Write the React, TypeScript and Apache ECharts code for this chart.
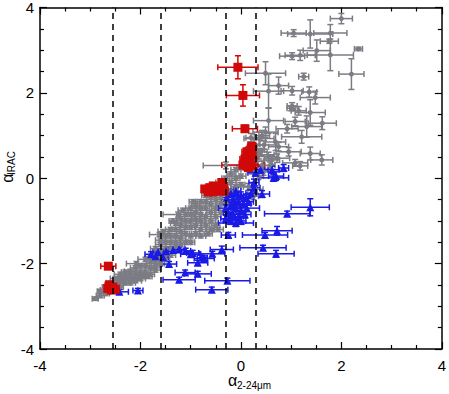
import React, { useEffect, useRef } from "react";
import * as echarts from "echarts";

// [x, y, xErr, yErr]
const grayPoints: number[][] = [
  [2.0, 3.74, 0.22, 0.12], [1.38, 3.38, 0.45, 0.33], [1.05, 3.4, 0.25, 0.08], [1.78, 3.4, 0.33, 0.2],
  [1.76, 3.21, 0.18, 0.05], [2.34, 3.03, 0.08, 0.04], [1.51, 2.99, 0.27, 0.25], [1.78, 2.89, 0.46, 0.37],
  [1.18, 2.88, 0.3, 0.12], [1.02, 2.86, 0.25, 0.08], [2.2, 2.44, 0.25, 0.36], [1.25, 2.38, 0.1, 0.08],
  [0.49, 2.46, 0.4, 0.27], [0.75, 2.17, 0.2, 0.2], [0.55, 2.04, 0.3, 0.4], [1.02, 2.05, 0.22, 0.1],
  [1.36, 2.02, 0.15, 0.12], [1.48, 1.89, 0.3, 0.15], [1.02, 1.69, 0.1, 0.08], [1.0, 1.64, 0.08, 0.06],
  [1.15, 1.58, 0.15, 0.1], [1.38, 1.54, 0.3, 0.3], [0.55, 1.35, 0.3, 0.3], [1.08, 1.33, 0.2, 0.1],
  [1.62, 1.29, 0.28, 0.15], [1.31, 1.21, 0.3, 0.25], [0.92, 1.16, 0.22, 0.1], [0.49, 1.08, 0.25, 0.12],
  [1.21, 0.97, 0.4, 0.15], [0.69, 0.85, 0.2, 0.2], [0.36, 0.93, 0.3, 0.15], [0.46, 0.78, 0.25, 0.1],
  [0.75, 0.74, 0.2, 0.1], [0.95, 0.62, 0.25, 0.1], [1.38, 0.58, 0.2, 0.15], [0.62, 0.43, 0.15, 0.1],
  [0.36, 0.55, 0.3, 0.1], [1.61, 0.43, 0.22, 0.12], [1.18, 0.29, 0.15, 0.1], [1.08, 0.36, 0.25, 0.08],
  [0.32, 0.66, 0.15, 0.1], [0.72, 0.47, 0.25, 0.1],
  [0.3, 0.4, 0.15, 0.1], [0.42, 0.3, 0.2, 0.1], [0.22, 0.2, 0.1, 0.1], [0.45, 0.15, 0.15, 0.08],
  [0.35, 0.05, 0.1, 0.08], [0.29, -0.26, 0.15, 0.08], [0.25, -0.42, 0.1, 0.08], [0.15, -0.2, 0.1, 0.08],
  [0.55, 0.51, 0.2, 0.1], [0.42, 1.0, 0.15, 0.12], [0.26, 0.8, 0.12, 0.1], [0.2, 0.95, 0.1, 0.1],
  [0.4, 0.62, 0.12, 0.08], [0.58, 0.3, 0.1, 0.08], [-0.3, 0.3, 0.45, 0.08],
  [-2.9, -2.82, 0.06, 0.04], [-2.8, -2.75, 0.08, 0.05], [-2.8, -2.65, 0.06, 0.05], [-2.7, -2.7, 0.08, 0.05],
  [-2.7, -2.55, 0.06, 0.05], [-2.7, -2.62, 0.1, 0.05], [-2.6, -2.45, 0.08, 0.05], [-2.6, -2.58, 0.06, 0.05],
  [-2.5, -2.35, 0.1, 0.05], [-2.5, -2.5, 0.08, 0.05], [-2.5, -2.62, 0.06, 0.05], [-2.45, -2.45, 0.1, 0.05],
  [-2.4, -2.25, 0.12, 0.05], [-2.4, -2.4, 0.08, 0.05], [-2.4, -2.55, 0.06, 0.05], [-2.35, -2.32, 0.1, 0.05],
  [-2.3, -2.2, 0.08, 0.05], [-2.3, -2.45, 0.1, 0.05], [-2.25, -2.35, 0.08, 0.05], [-2.2, -2.18, 0.12, 0.05],
  [-2.2, -2.3, 0.08, 0.05], [-2.2, -2.45, 0.1, 0.05], [-2.15, -2.38, 0.08, 0.05], [-2.1, -2.1, 0.1, 0.05],
  [-2.1, -2.25, 0.08, 0.05], [-2.1, -2.4, 0.12, 0.05], [-2.05, -2.32, 0.08, 0.05], [-2.08, -2.0, 0.2, 0.05],
  [-2.0, -2.05, 0.1, 0.05], [-2.0, -2.2, 0.08, 0.05], [-2.0, -2.35, 0.1, 0.05], [-1.95, -2.28, 0.08, 0.05],
  [-1.9, -1.9, 0.15, 0.05], [-1.9, -2.05, 0.08, 0.05], [-1.9, -2.2, 0.1, 0.05], [-1.85, -2.3, 0.08, 0.05],
  [-1.8, -1.85, 0.1, 0.05], [-1.8, -1.95, 0.08, 0.05], [-1.8, -2.1, 0.1, 0.05], [-1.8, -2.25, 0.08, 0.05],
  [-1.7, -1.65, 0.1, 0.05], [-1.7, -1.8, 0.08, 0.05], [-1.7, -1.95, 0.1, 0.05], [-1.7, -2.05, 0.08, 0.05],
  [-1.7, -2.15, 0.1, 0.05], [-1.62, -1.32, 0.2, 0.05], [-1.6, -1.55, 0.1, 0.05], [-1.6, -1.7, 0.08, 0.05],
  [-1.6, -1.85, 0.1, 0.05], [-1.6, -2.0, 0.08, 0.05], [-1.6, -1.45, 0.1, 0.05], [-1.5, -1.35, 0.08, 0.05],
  [-1.5, -1.5, 0.1, 0.05], [-1.5, -1.65, 0.08, 0.05], [-1.5, -1.8, 0.1, 0.05], [-1.5, -1.9, 0.08, 0.05],
  [-1.4, -1.2, 0.1, 0.05], [-1.4, -1.35, 0.08, 0.05], [-1.4, -1.5, 0.1, 0.05], [-1.4, -1.65, 0.08, 0.05],
  [-1.4, -1.8, 0.1, 0.05], [-1.25, -0.85, 0.3, 0.06], [-1.3, -1.05, 0.1, 0.05], [-1.3, -1.2, 0.08, 0.05],
  [-1.3, -1.35, 0.1, 0.05], [-1.3, -1.5, 0.08, 0.05], [-1.3, -1.6, 0.1, 0.05], [-1.2, -0.95, 0.08, 0.05],
  [-1.2, -1.1, 0.1, 0.05], [-1.2, -1.25, 0.08, 0.05], [-1.2, -1.4, 0.1, 0.05], [-1.2, -1.55, 0.08, 0.05],
  [-1.1, -0.85, 0.1, 0.05], [-1.1, -1.0, 0.08, 0.05], [-1.1, -1.15, 0.1, 0.05], [-1.1, -1.3, 0.08, 0.05],
  [-1.1, -1.5, 0.1, 0.05], [-1.0, -0.7, 0.1, 0.05], [-1.0, -0.85, 0.08, 0.05], [-1.0, -1.0, 0.1, 0.05],
  [-1.0, -1.15, 0.08, 0.05], [-1.0, -1.35, 0.1, 0.05], [-0.9, -0.65, 0.08, 0.05], [-0.9, -0.8, 0.1, 0.05],
  [-0.9, -0.95, 0.08, 0.05], [-0.9, -1.1, 0.1, 0.05], [-0.9, -1.3, 0.08, 0.05], [-0.8, -0.55, 0.1, 0.05],
  [-0.8, -0.7, 0.08, 0.05], [-0.8, -0.85, 0.1, 0.05], [-0.8, -1.0, 0.08, 0.05], [-0.8, -1.2, 0.1, 0.05],
  [-0.7, -0.4, 0.08, 0.05], [-0.7, -0.55, 0.1, 0.05], [-0.7, -0.7, 0.08, 0.05], [-0.7, -0.9, 0.1, 0.05],
  [-0.7, -1.1, 0.08, 0.05], [-0.6, -0.3, 0.1, 0.05], [-0.6, -0.45, 0.08, 0.05], [-0.6, -0.6, 0.1, 0.05],
  [-0.6, -0.8, 0.08, 0.05], [-0.6, -1.0, 0.1, 0.05], [-0.6, -1.2, 0.08, 0.05], [-0.5, -0.2, 0.1, 0.05],
  [-0.5, -0.35, 0.08, 0.05], [-0.5, -0.5, 0.1, 0.05], [-0.5, -0.7, 0.08, 0.05], [-0.5, -0.9, 0.1, 0.05],
  [-0.5, -1.1, 0.08, 0.05], [-0.4, -0.1, 0.1, 0.05], [-0.4, -0.25, 0.08, 0.05], [-0.4, -0.45, 0.1, 0.05],
  [-0.4, -0.6, 0.08, 0.05], [-0.4, -0.8, 0.1, 0.05], [-0.3, 0.0, 0.08, 0.05], [-0.3, -0.15, 0.1, 0.05],
  [-0.3, -0.35, 0.08, 0.05], [-0.3, -0.55, 0.1, 0.05], [-0.2, 0.1, 0.08, 0.05], [-0.2, -0.1, 0.1, 0.05],
  [-0.2, -0.3, 0.08, 0.05], [-0.1, 0.2, 0.1, 0.05], [-0.1, 0.0, 0.08, 0.05], [-0.1, -0.2, 0.1, 0.05],
  [0.0, 0.25, 0.08, 0.05], [0.0, 0.05, 0.1, 0.05], [0.0, -0.15, 0.08, 0.05],
  [-1.55, -1.25, 0.1, 0.05], [-1.35, -1.0, 0.08, 0.05], [-1.15, -0.75, 0.1, 0.05], [-0.95, -0.55, 0.08, 0.05],
  [-0.8, -1.35, 0.1, 0.05], [-0.65, -1.3, 0.08, 0.05], [-0.45, -1.2, 0.1, 0.05], [-1.0, -1.5, 0.08, 0.05],
];

const bluePoints: number[][] = [
  [1.38, -0.68, 0.38, 0.2], [0.92, -0.83, 0.45, 0.06], [0.72, -1.23, 0.3, 0.1], [0.48, -1.33, 0.45, 0.06],
  [0.44, -1.63, 0.46, 0.06], [0.7, -1.77, 0.36, 0.08], [-0.25, -1.33, 0.14, 0.06], [-0.38, -1.67, 0.23, 0.08],
  [-0.57, -1.77, 0.25, 0.06], [-0.73, -1.88, 0.2, 0.06], [-0.86, -1.98, 0.2, 0.06], [-1.0, -1.78, 0.2, 0.06],
  [-0.86, -2.24, 0.27, 0.06], [-0.27, -2.4, 0.45, 0.06], [-0.58, -2.61, 0.32, 0.06], [-1.23, -2.38, 0.32, 0.06],
  [-1.11, -2.21, 0.2, 0.06], [-1.43, -2.01, 0.15, 0.06], [-1.79, -1.78, 0.12, 0.06], [-1.65, -1.73, 0.1, 0.06],
  [-1.49, -1.71, 0.12, 0.06], [-1.35, -1.68, 0.1, 0.06], [-1.23, -1.67, 0.12, 0.06], [-1.1, -1.7, 0.1, 0.06],
  [-0.96, -1.75, 0.12, 0.06], [-0.77, -1.86, 0.1, 0.06], [-1.55, -1.85, 0.1, 0.06], [-1.7, -1.83, 0.1, 0.06],
  [-2.42, -2.66, 0.18, 0.05], [-2.05, -2.63, 0.1, 0.05], [-2.52, -2.61, 0.1, 0.05],
  [-0.2, -0.35, 0.1, 0.08], [-0.1, -0.3, 0.1, 0.08], [0.0, -0.4, 0.12, 0.08], [-0.15, -0.5, 0.1, 0.08],
  [-0.05, -0.55, 0.1, 0.08], [0.05, -0.6, 0.15, 0.08], [-0.2, -0.65, 0.12, 0.08], [-0.1, -0.7, 0.1, 0.08],
  [0.0, -0.75, 0.1, 0.08], [-0.25, -0.8, 0.1, 0.08], [-0.15, -0.85, 0.15, 0.08], [-0.05, -0.9, 0.1, 0.08],
  [-0.2, -1.0, 0.15, 0.08], [-0.1, -1.05, 0.35, 0.08], [0.1, -0.45, 0.15, 0.08], [0.12, -0.7, 0.25, 0.08],
  [-0.3, -0.7, 0.15, 0.08], [0.26, -0.1, 0.1, 0.08], [0.26, -0.22, 0.12, 0.08], [0.42, -0.37, 0.15, 0.08],
  [0.2, -0.35, 0.1, 0.08], [0.39, 0.2, 0.15, 0.08], [0.62, 0.2, 0.15, 0.08], [0.85, 0.24, 0.1, 0.08],
  [0.65, 0.01, 0.3, 0.08], [0.29, 0.13, 0.15, 0.08], [0.7, 0.05, 0.15, 0.1],
  [-0.28, -0.45, 0.1, 0.08], [-0.05, -0.42, 0.1, 0.08], [0.08, -0.85, 0.12, 0.08], [-0.3, -0.95, 0.1, 0.08],
  [0.0, -1.0, 0.1, 0.08], [-0.12, -0.62, 0.1, 0.08], [-0.22, -0.9, 0.1, 0.08], [0.15, -0.55, 0.1, 0.08],
];

const redPoints: number[][] = [
  [-0.06, 2.6, 0.4, 0.27], [0.04, 1.94, 0.33, 0.25], [0.08, 1.16, 0.25, 0.08],
  [0.22, 0.75, 0.08, 0.08], [0.2, 0.68, 0.1, 0.08], [0.12, 0.62, 0.1, 0.08], [0.22, 0.55, 0.1, 0.08],
  [0.15, 0.5, 0.12, 0.08], [0.08, 0.45, 0.1, 0.08], [0.18, 0.4, 0.15, 0.08], [0.1, 0.35, 0.1, 0.08],
  [0.04, 0.31, 0.42, 0.06], [0.15, 0.25, 0.1, 0.08], [0.22, 0.3, 0.12, 0.08],
  [-0.72, -0.25, 0.05, 0.05], [-0.62, -0.22, 0.05, 0.05], [-0.55, -0.18, 0.05, 0.05], [-0.48, -0.25, 0.05, 0.05],
  [-0.4, -0.3, 0.05, 0.05], [-0.38, -0.1, 0.05, 0.05], [-0.35, -0.2, 0.05, 0.05], [-0.33, -0.3, 0.05, 0.05],
  [-0.65, -0.32, 0.05, 0.05], [-0.55, -0.32, 0.05, 0.05],
  [-2.64, -2.06, 0.15, 0.05], [-2.62, -2.5, 0.08, 0.05], [-2.55, -2.55, 0.08, 0.05], [-2.65, -2.58, 0.08, 0.05],
  [-2.58, -2.62, 0.1, 0.05], [-2.5, -2.6, 0.1, 0.05],
];

const dividerX = [-2.56, -1.6, -0.3, 0.3];
const axisTicks = { min: -4, max: 4, interval: 2 };

const GRAY = "#7c7c84";
const BLUE = "#1a1ae6";
const RED = "#d00808";
const FONT = "Liberation Sans, Arial, sans-serif";

function errorBars(data: number[][], color: string, cap: number) {
  return {
    type: "custom",
    data,
    silent: true,
    renderItem: (_p: any, api: any) => {
      const x = api.value(0), y = api.value(1), xe = api.value(2), ye = api.value(3);
      const l = api.coord([x - xe, y]);
      const r = api.coord([x + xe, y]);
      const t = api.coord([x, y + ye]);
      const b = api.coord([x, y - ye]);
      const st = { stroke: color, lineWidth: 1.5 };
      const ln = (x1: number, y1: number, x2: number, y2: number) => ({
        type: "line",
        shape: { x1, y1, x2, y2 },
        style: st,
      });
      return {
        type: "group",
        children: [
          ln(l[0], l[1], r[0], r[1]),
          ln(t[0], t[1], b[0], b[1]),
          ln(l[0], l[1] - cap, l[0], l[1] + cap),
          ln(r[0], r[1] - cap, r[0], r[1] + cap),
          ln(t[0] - cap, t[1], t[0] + cap, t[1]),
          ln(b[0] - cap, b[1], b[0] + cap, b[1]),
        ],
      };
    },
  };
}

function markers(data: number[][], color: string, symbol: string, size: number) {
  return {
    type: "scatter",
    data: data.map((d) => [d[0], d[1]]),
    symbol,
    symbolSize: size,
    itemStyle: { color, opacity: 1 },
    silent: true,
  };
}

export default function App() {
  const ref = useRef<HTMLDivElement>(null);
  useEffect(() => {
    if (!ref.current) return;
    const chart = echarts.init(ref.current, null, { renderer: "svg" });
    const base = {
      type: "value",
      ...axisTicks,
      axisLine: { show: true, onZero: false, lineStyle: { color: "#000", width: 1.5 } },
      axisTick: { show: true, inside: true, length: 7, lineStyle: { color: "#000", width: 1.2 } },
      minorTick: { show: true, splitNumber: 4, length: 4, lineStyle: { color: "#000", width: 1.2 } },
      splitLine: { show: false },
      minorSplitLine: { show: false },
    };
    const labelStyle = { color: "#000", fontSize: 15, fontFamily: FONT };
    chart.setOption({
      animation: false,
      grid: { left: 40, right: 4, top: 1, bottom: 45, containLabel: false },
      xAxis: [
        { ...base, position: "bottom", axisLabel: { ...labelStyle, margin: 9 } },
        { ...base, position: "top", axisLabel: { show: false } },
      ],
      yAxis: [
        { ...base, position: "left", axisLabel: { ...labelStyle, margin: 6 } },
        { ...base, position: "right", axisLabel: { show: false } },
      ],
      series: [
        {
          type: "line",
          data: [],
          markLine: {
            silent: true,
            symbol: "none",
            label: { show: false },
            lineStyle: { color: "#000", type: [6, 5], width: 1.5 },
            data: dividerX.map((v) => ({ xAxis: v })),
          },
        },
        errorBars(grayPoints, GRAY, 3),
        markers(grayPoints, GRAY, "circle", 5),
        errorBars(bluePoints, BLUE, 3),
        markers(bluePoints, BLUE, "triangle", 8),
        errorBars(redPoints, RED, 3),
        markers(redPoints, RED, "rect", 9),
      ],
      graphic: [
        { type: "text", left: 228, top: 372, style: { text: "α", fontSize: 16, fill: "#000", fontFamily: FONT } },
        { type: "text", left: 237, top: 380, style: { text: "2-24μm", fontSize: 10, fill: "#000", fontFamily: FONT } },
        { type: "text", x: 7, y: 178, rotation: Math.PI / 2, style: { text: "α", fontSize: 16, fill: "#000", align: "center", verticalAlign: "middle", fontFamily: FONT } },
        { type: "text", x: 11, y: 163, rotation: Math.PI / 2, style: { text: "IRAC", fontSize: 10, fill: "#000", align: "center", verticalAlign: "middle", fontFamily: FONT } },
      ],
    });
    return () => chart.dispose();
  }, []);
  return (
    <div
      ref={ref}
      style={{ position: "fixed", left: 0, top: 0, width: 449, height: 394, background: "#fff" }}
    />
  );
}
